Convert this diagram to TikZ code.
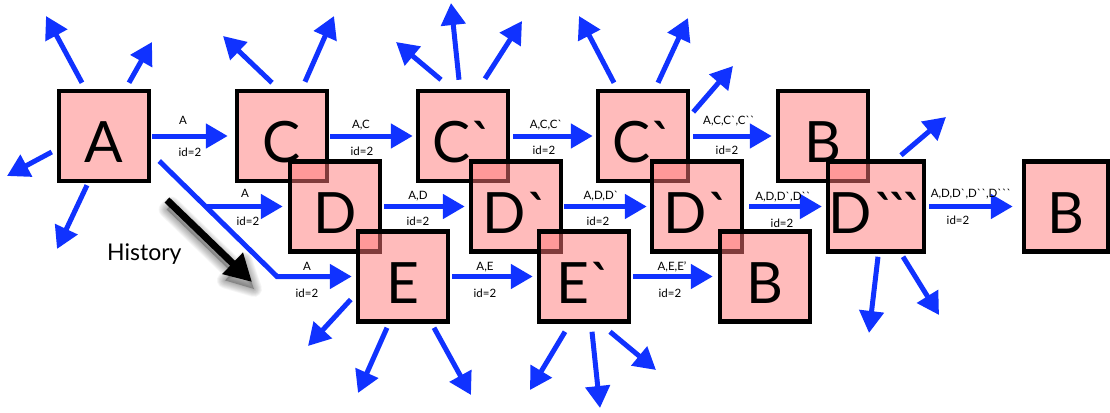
\documentclass[tikz,border=0pt]{standalone}
\usepackage{fontspec}
\setmainfont{Lato}
\usetikzlibrary{arrows.meta}
\definecolor{flowblue}{RGB}{16,50,255}
\definecolor{boxpink}{RGB}{255,119,119}
\newcommand{\gr}{\textasciigrave}

\begin{document}
\begin{tikzpicture}[x=1pt,y=-1pt,
  box/.style={draw=black, line width=4.5pt, fill=boxpink, fill opacity=0.5,
    text opacity=1, minimum size=90pt, inner sep=0pt,
    text height=53pt, text depth=0pt, font=\fontsize{57}{57}\selectfont},
  flow/.style={draw=flowblue, line width=5pt, -{Triangle[length=22pt,width=24pt]}},
  lbl/.style={anchor=base, inner sep=0pt, font=\fontsize{11.5}{11.5}\selectfont},
]
\useasboundingbox (0,0) rectangle (1110,412);

% ---- states, drawn row by row so lower rows overlap upper ones
\node[box] (A)   at (104,136) {A};
\node[box] (C)   at (282,136) {C};
\node[box] (C1)  at (463,136) {C\gr};
\node[box] (C2)  at (643,136) {C\gr};
\node[box] (Bt)  at (823,136) {B};

\node[box] (D)   at (335,206.5) {D};
\node[box] (D1)  at (516,206.5) {D\gr};
\node[box] (D2)  at (697,206.5) {D\gr};
\node[box] (D3)  at (876,206.5) {D\kern2pt\gr\kern-9pt\gr\kern-9pt\gr};
\node[box, minimum width=84pt] (Br) at (1066,206.5) {B};

\node[box] (E)   at (403,276.5) {E};
\node[box] (E1)  at (584,276.5) {E\gr};
\node[box] (Bl)  at (765,276.5) {B};

% ---- transitions between states
\draw[flow, shorten <=1pt, shorten >=7pt] (A)  -- (C);
\draw[flow, shorten <=1pt, shorten >=3pt] (C)  -- (C1);
\draw[flow, shorten <=3pt, shorten >=3pt] (C1) -- (C2);
\draw[flow, shorten <=3pt, shorten >=4pt] (C2) -- (Bt);

\draw[flow, shorten <=2pt, shorten >=4pt] (D)  -- (D1);
\draw[flow, shorten <=1pt, shorten >=3pt] (D1) -- (D2);
\draw[flow, shorten <=5pt, shorten >=4pt] (D2) -- (D3);
\draw[flow, shorten <=3pt, shorten >=9pt] (D3) -- (Br);

\draw[flow, shorten <=2pt, shorten >=4pt] (E)  -- (E1);
\draw[flow, shorten <=2pt, shorten >=5pt] (E1) -- (Bl);

% branch from A down to D and E
\coordinate (bend) at (277,276.5);
\coordinate (fork) at (206,206.5);
\draw[flow, shorten >=4pt] ([shift={(8,25)}]A.east) -- (bend) -- (E);
\draw[flow, shorten >=5pt] (fork) -- (D);

% ---- transition labels
\node[lbl] (l1)  at (183,124) {A};
\node[lbl] (i1)  at (190,156) {id=2};
\node[lbl] (l2)  at (361,128) {A,C};
\node[lbl] (i2)  at (362,155) {id=2};
\node[lbl] (l3)  at (546,128) {A,C,C\gr};
\node[lbl] (i3)  at (544,154) {id=2};
\node[lbl] (l4)  at (729,124) {A,C,C\gr,C\gr\gr};
\node[lbl] (i4)  at (727,154) {id=2};

\node[lbl] (l5)  at (245,197) {A};
\node[lbl] (i5)  at (248,225) {id=2};
\node[lbl] (l6)  at (418,199) {A,D};
\node[lbl] (i6)  at (418,225) {id=2};
\node[lbl] (l7)  at (601,199) {A,D,D\gr};
\node[lbl] (i7)  at (598,225) {id=2};
\node[lbl] (l8)  at (783,200) {A,D,D\gr,D\gr\gr};
\node[lbl] (i8)  at (782,227) {id=2};
\node[lbl] (l9)  at (971,197) {A,D,D\gr,D\gr\gr,D\gr\gr\gr};
\node[lbl] (i9)  at (958,224) {id=2};

\node[lbl] (l10) at (307,270) {A};
\node[lbl] (i10) at (307,297) {id=2};
\node[lbl] (l11) at (485,270) {A,E};
\node[lbl] (i11) at (485,297) {id=2};
\node[lbl] (l12) at (672,270) {A,E,E'};
\node[lbl] (i12) at (670,297) {id=2};

% ---- outgoing edges to states not shown
\coordinate (oA1) at (46,16);
\coordinate (oA2) at (152,42);
\coordinate (oA3) at (7,176);
\coordinate (oA4) at (57,249);
\draw[flow] ([shift={(-22,-6)}]A.north) -- (oA1);
\draw[flow] ([shift={(25,-6)}]A.north)  -- (oA2);
\draw[flow] ([shift={(-5,16)}]A.west)   -- (oA3);
\draw[flow] ([shift={(-17,2)}]A.south)  -- (oA4);

\coordinate (oC1) at (223,36);
\coordinate (oC2) at (334,16);
\draw[flow] ([shift={(-10,-6)}]C.north) -- (oC1);
\draw[flow] ([shift={(23,-7)}]C.north)  -- (oC2);

\coordinate (oCa1) at (396,42);
\coordinate (oCa2) at (451,3);
\coordinate (oCa3) at (522,21);
\draw[flow] ([shift={(-22,-9)}]C1.north) -- (oCa1);
\draw[flow] ([shift={(-4,-9)}]C1.north)  -- (oCa2);
\draw[flow] ([shift={(22,-10)}]C1.north) -- (oCa3);

\coordinate (oCb1) at (579,16);
\coordinate (oCb2) at (688,18);
\coordinate (oCb3) at (733,66);
\draw[flow] ([shift={(-29,-6)}]C2.north) -- (oCb1);
\draw[flow] ([shift={(15,-6)}]C2.north)  -- (oCb2);
\draw[flow] ([shift={(3,-24)}]C2.east)   -- (oCb3);

\coordinate (oD1) at (946,117);
\coordinate (oD2) at (869,333);
\coordinate (oD3) at (939,315);
\draw[flow] ([shift={(25,-4)}]D3.north) -- (oD1);
\draw[flow] ([shift={(2,3)}]D3.south)   -- (oD2);
\draw[flow] ([shift={(27,3)}]D3.south)  -- (oD3);

\coordinate (oE1) at (308,346);
\coordinate (oE2) at (358,393);
\coordinate (oE3) at (471,395);
\draw[flow] ([shift={(-5,23)}]E.west)   -- (oE1);
\draw[flow] ([shift={(-16,4)}]E.south)  -- (oE2);
\draw[flow] ([shift={(31,4)}]E.south)   -- (oE3);

\coordinate (oEa1) at (530,390);
\coordinate (oEa2) at (600,408);
\coordinate (oEa3) at (656,370);
\draw[flow] ([shift={(-19,8)}]E1.south) -- (oEa1);
\draw[flow] ([shift={(8,8)}]E1.south)   -- (oEa2);
\draw[flow] ([shift={(26,8)}]E1.south)  -- (oEa3);

% ---- history arrow with a soft drop shadow
\begin{scope}[shift={(2,7)}]
  \foreach \w in {1,...,10}
    \draw[black, opacity=0.035, line width=1.6*\w pt, line join=round]
      (169.4,197.5) -- (235.0,260.8) -- (242.3,253.2) -- (252,282)
      -- (222.9,273.4) -- (230.2,265.8) -- (164.6,202.5) -- cycle;
  \fill[black, opacity=0.25]
      (169.4,197.5) -- (235.0,260.8) -- (242.3,253.2) -- (252,282)
      -- (222.9,273.4) -- (230.2,265.8) -- (164.6,202.5) -- cycle;
\end{scope}
\coordinate (hs) at (167,200);
\coordinate (ht) at (252,282);
\draw[black, line width=7pt, -{Triangle[length=27pt,width=28pt]}] (hs) -- (ht);
\node[anchor=base west, inner sep=0pt, font=\fontsize{23}{23}\selectfont] (hist) at (107,260) {History};
\end{tikzpicture}
\end{document}
